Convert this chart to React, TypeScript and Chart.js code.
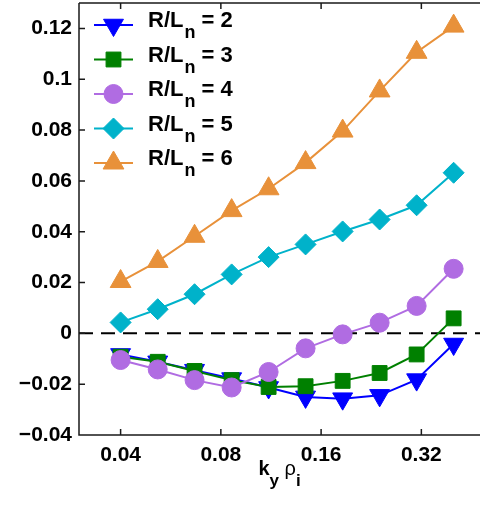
import React, { useEffect, useRef } from 'react';
import { Chart, registerables } from 'chart.js';
import { drawPoint } from 'chart.js/helpers';

Chart.register(...registerables);

// ---- data ----
const kyRho = [0.04, 0.0517, 0.0667, 0.0862, 0.1113, 0.1437, 0.1857, 0.2398, 0.3097, 0.4];
const rln2 = [-0.0083, -0.0112, -0.0145, -0.0178, -0.0213, -0.025, -0.0257, -0.0244, -0.0182, -0.0042];
const rln3 = [-0.0092, -0.0112, -0.0148, -0.0184, -0.0211, -0.0208, -0.0187, -0.0156, -0.0083, 0.0059];
const rln4 = [-0.0105, -0.0142, -0.0184, -0.0213, -0.0152, -0.0059, -0.0004, 0.0042, 0.0108, 0.0254];
const rln5 = [0.0043, 0.0095, 0.0154, 0.0232, 0.030, 0.035, 0.0401, 0.0448, 0.0504, 0.0632];
const rln6 = [0.0204, 0.0283, 0.0382, 0.0483, 0.0569, 0.0672, 0.0796, 0.0954, 0.1106, 0.1209];
const seriesLabels = ['R/L_n = 2', 'R/L_n = 3', 'R/L_n = 4', 'R/L_n = 5', 'R/L_n = 6'];
const xTicks = [0.04, 0.08, 0.16, 0.32];
const xTickLabels = ['0.04', '0.08', '0.16', '0.32'];
const yTicks = [-0.04, -0.02, 0, 0.02, 0.04, 0.06, 0.08, 0.1, 0.12];
const yTickLabels = ['\u22120.04', '\u22120.02', '0', '0.02', '0.04', '0.06', '0.08', '0.1', '0.12'];
const xRange = [0.03, 0.48];
const yRange = [-0.04, 0.13];
const xTitle = [
  { text: 'k', bold: true, sub: false },
  { text: 'y', bold: true, sub: true },
  { text: ' ', bold: false, sub: false },
  { text: '\u03C1', bold: false, sub: false },
  { text: 'i', bold: true, sub: true },
];

const FONT = '"Liberation Sans", Arial, Helvetica, sans-serif';

const styles = [
  { color: '#0000FF', pointStyle: 'triangle', rotation: 180, radius: 11.5 },
  { color: '#008000', pointStyle: 'rect', rotation: 0, radius: 10.5 },
  { color: '#B06CE2', pointStyle: 'circle', rotation: 0, radius: 9.5 },
  { color: '#00B2CA', pointStyle: 'rectRot', rotation: 0, radius: 10.5 },
  { color: '#E8913A', pointStyle: 'triangle', rotation: 0, radius: 12 },
];

const seriesValues = [rln2, rln3, rln4, rln5, rln6];

const framePlugin = {
  id: 'frame',
  afterDraw(chart: any) {
    const ctx = chart.ctx;
    const { left, right, top, bottom } = chart.chartArea;
    const xs = chart.scales.x;
    const ys = chart.scales.y;
    ctx.save();
    ctx.strokeStyle = '#1a1a1a';
    ctx.lineWidth = 1.5;
    ctx.beginPath();
    ctx.moveTo(left, top);
    ctx.lineTo(right, top);
    ctx.moveTo(left, top);
    ctx.lineTo(left, bottom);
    ctx.lineTo(right, bottom);
    const tl = 6;
    xTicks.forEach((v) => {
      const px = xs.getPixelForValue(v);
      ctx.moveTo(px, bottom);
      ctx.lineTo(px, bottom - tl);
      ctx.moveTo(px, top);
      ctx.lineTo(px, top + tl);
    });
    yTicks.forEach((v) => {
      const py = ys.getPixelForValue(v);
      ctx.moveTo(left, py);
      ctx.lineTo(left + tl, py);
    });
    ctx.stroke();

    // legend
    const lx0 = 94, lx1 = 133, mx = 113.5, tx = 148;
    seriesLabels.forEach((lab, i) => {
      const y = 25 + 34.5 * i;
      const st = styles[i];
      ctx.strokeStyle = st.color;
      ctx.fillStyle = st.color;
      ctx.lineWidth = 2;
      ctx.setLineDash([]);
      ctx.beginPath();
      ctx.moveTo(lx0, y);
      ctx.lineTo(lx1, y);
      ctx.stroke();
      ctx.lineWidth = 1;
      drawPoint(ctx, { pointStyle: st.pointStyle, rotation: st.rotation, radius: st.radius, borderWidth: 1 } as any, mx, y);
      const [main, rest] = lab.split('_');
      const sub = rest.charAt(0);
      const tail = rest.slice(1);
      ctx.fillStyle = '#000';
      ctx.textBaseline = 'alphabetic';
      ctx.textAlign = 'left';
      let x = tx;
      ctx.font = `bold 22px ${FONT}`;
      ctx.fillText(main, x, y + 2);
      x += ctx.measureText(main).width + 1;
      ctx.font = `bold 18px ${FONT}`;
      ctx.fillText(sub, x, y + 13);
      x += ctx.measureText(sub).width;
      ctx.font = `bold 22px ${FONT}`;
      ctx.fillText(tail, x, y + 2);
    });

    // x axis title
    const fontFor = (s: any) => `${s.bold ? 'bold ' : ''}${s.sub ? 17 : 20}px ${FONT}`;
    let total = 0;
    xTitle.forEach((s) => {
      ctx.font = fontFor(s);
      total += ctx.measureText(s.text).width;
    });
    let x = (left + right) / 2 - total / 2;
    const base = 475;
    ctx.fillStyle = '#000';
    xTitle.forEach((s) => {
      ctx.font = fontFor(s);
      ctx.fillText(s.text, x, base + (s.sub ? 11 : 0));
      x += ctx.measureText(s.text).width;
    });
    ctx.restore();
  },
};

const zeroPad = (s: any) => {
  s.paddingLeft = 0;
  s.paddingRight = 0;
  s.paddingTop = 0;
  s.paddingBottom = 0;
};

export default function App() {
  const ref = useRef<HTMLCanvasElement | null>(null);
  useEffect(() => {
    if (!ref.current) return;
    const datasets: any[] = seriesValues.map((vals, i) => ({
      label: seriesLabels[i],
      data: kyRho.map((x, j) => ({ x, y: vals[j] })),
      borderColor: styles[i].color,
      backgroundColor: styles[i].color,
      pointBackgroundColor: styles[i].color,
      pointBorderColor: styles[i].color,
      pointStyle: styles[i].pointStyle,
      pointRotation: styles[i].rotation,
      pointRadius: styles[i].radius,
      pointBorderWidth: 1,
      borderWidth: 2,
      tension: 0,
      order: 5 - i,
    }));
    datasets.push({
      label: 'zero',
      data: [{ x: xRange[0], y: 0 }, { x: xRange[1], y: 0 }],
      borderColor: '#000',
      borderWidth: 2,
      borderDash: [14, 8],
      pointRadius: 0,
      order: 10,
    });
    const chart = new Chart(ref.current, {
      type: 'line',
      data: { datasets },
      options: {
        animation: false,
        responsive: false,
        clip: false,
        layout: { autoPadding: false, padding: { top: 3, right: 0, left: 0, bottom: 0 } },
        plugins: { legend: { display: false }, tooltip: { enabled: false } },
        scales: {
          x: {
            type: 'logarithmic',
            min: xRange[0],
            max: xRange[1],
            grid: { display: false, drawTicks: false },
            border: { display: false },
            afterBuildTicks: (s: any) => {
              s.ticks = xTicks.map((v) => ({ value: v }));
            },
            afterFit: (s: any) => {
              s.height = 77;
              zeroPad(s);
            },
            ticks: {
              callback: (v: any, i: number) => xTickLabels[i],
              color: '#000',
              font: { family: FONT, size: 21, weight: 'bold' },
              padding: 8,
              maxRotation: 0,
              autoSkip: false,
            },
          },
          y: {
            type: 'linear',
            min: yRange[0],
            max: yRange[1],
            grid: { display: false, drawTicks: false },
            border: { display: false },
            afterBuildTicks: (s: any) => {
              s.ticks = yTicks.map((v) => ({ value: v }));
            },
            afterFit: (s: any) => {
              s.width = 79;
              zeroPad(s);
            },
            ticks: {
              callback: (v: any, i: number) => yTickLabels[i],
              color: '#000',
              font: { family: FONT, size: 21, weight: 'bold' },
              padding: 7,
              autoSkip: false,
            },
          },
        },
      } as any,
      plugins: [framePlugin],
    });
    return () => chart.destroy();
  }, []);
  return (
    <div style={{ position: 'fixed', left: 0, top: 0, width: 480, height: 512, background: '#fff' }}>
      <canvas ref={ref} width={480} height={512} style={{ display: 'block' }} />
    </div>
  );
}
